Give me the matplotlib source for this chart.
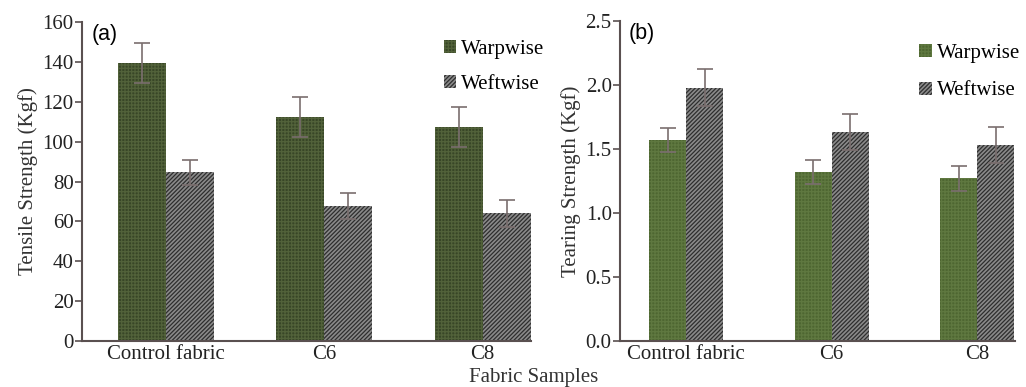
import matplotlib
matplotlib.use("Agg")
import matplotlib.pyplot as plt
import numpy as np

categories = ["Control fabric", "C6", "C8"]
series = ["Warpwise", "Weftwise"]

tensile_warp = [139.3, 112.3, 107.2]
tensile_warp_err = [10.0, 10.0, 10.0]
tensile_weft = [84.6, 67.7, 64.0]
tensile_weft_err = [6.4, 6.5, 6.6]

tearing_warp = [1.57, 1.32, 1.27]
tearing_warp_err = [0.095, 0.095, 0.10]
tearing_weft = [1.98, 1.63, 1.53]
tearing_weft_err = [0.145, 0.14, 0.14]

plt.rcParams['font.family'] = ['Liberation Serif', 'DejaVu Serif']
plt.rcParams['hatch.linewidth'] = 0.9

fig = plt.figure(figsize=(10.26, 3.87), dpi=100)
axA = fig.add_axes([0.0799, 0.1189, 0.5175 - 0.0799, 0.943 - 0.1189])
axB = fig.add_axes([0.6043, 0.1189, 0.9893 - 0.6043, 0.9457 - 0.1189])

spine_col = '#5a5050'
err_col = '#7a6e6e'
FS = 15

def draw(ax, warp, warp_err, weft, weft_err, w, warp_col, warp_hatch_col, xlim, ylim, yticks, fmt, ylabel, tag, leg_anchor, lspace):
    x = np.arange(len(categories))
    ax.bar(x - w / 2, warp, w, color=warp_col, edgecolor=warp_hatch_col, hatch='+++++', linewidth=0, label=series[0])
    ax.bar(x + w / 2, weft, w, color='#8a8a8a', edgecolor='#2e2e2e', hatch='////////', linewidth=0, label=series[1])
    ax.errorbar(x - w / 2, warp, yerr=warp_err, fmt='none', ecolor=err_col, elinewidth=1.2, capsize=6, capthick=1.2)
    ax.errorbar(x + w / 2, weft, yerr=weft_err, fmt='none', ecolor=err_col, elinewidth=1.2, capsize=6, capthick=1.2)
    ax.set_xlim(*xlim)
    ax.set_ylim(*ylim)
    ax.set_yticks(yticks)
    ax.set_yticklabels([fmt.format(v) for v in yticks])
    ax.set_xticks(x)
    ax.set_xticklabels(categories)
    for s in ['top', 'right']:
        ax.spines[s].set_visible(False)
    for s in ['left', 'bottom']:
        ax.spines[s].set_color(spine_col)
        ax.spines[s].set_linewidth(1.5)
    ax.tick_params(axis='y', direction='out', length=5, width=1.2, color=spine_col, labelsize=FS, pad=1, labelcolor='#222222')
    ax.tick_params(axis='x', length=0, labelsize=FS, pad=3, labelcolor='#222222')
    ax.set_ylabel(ylabel, fontsize=FS, color='#333333', labelpad=3)
    ax.text(0.022, 0.995, tag, transform=ax.transAxes, fontsize=15.5, family=['Liberation Sans', 'DejaVu Sans'], va='top', ha='left')
    ax.legend(loc='upper left', bbox_to_anchor=leg_anchor, frameon=False,
              prop={'family': 'Liberation Serif', 'size': 15},
              handlelength=0.6, handleheight=0.6, handletextpad=0.25, labelspacing=lspace, borderaxespad=0)

draw(axA, tensile_warp, tensile_warp_err, tensile_weft, tensile_weft_err, 0.304,
     '#384627', '#52623a', (-0.53, 2.305), (0, 160), list(range(0, 161, 20)), '{:d}',
     'Tensile Strength (Kgf)', '(a)', (0.787, 0.97), 0.75)
draw(axB, tearing_warp, tearing_warp_err, tearing_weft, tearing_weft_err, 0.254,
     '#4e6631', '#5f7840', (-0.454, 2.26), (0, 2.5), [0.0, 0.5, 1.0, 1.5, 2.0, 2.5], '{:.1f}',
     'Tearing Strength (Kgf)', '(b)', (0.737, 0.955), 0.9)

fig.text(0.52, 0.025, 'Fabric Samples', ha='center', va='center', fontsize=FS, color='#333333')

fig.savefig('out.png', dpi=100)
